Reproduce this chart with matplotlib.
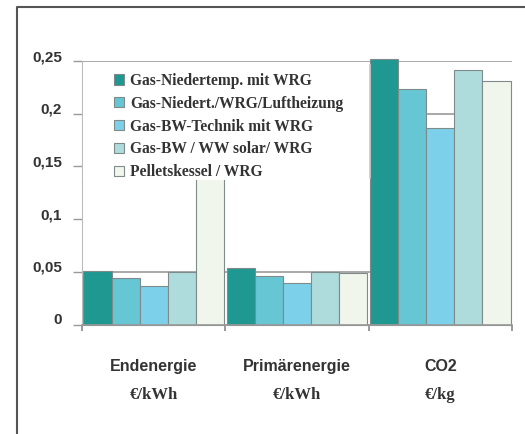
import numpy as np
import matplotlib.pyplot as plt
from matplotlib.lines import Line2D
from matplotlib.patches import Rectangle

# Kosten je Energieart fuer fuenf Heizungsvarianten
categories = ['Endenergie', 'Primärenergie', 'CO2']
units = ['€/kWh', '€/kWh', '€/kg']
series = ['Gas-Niedertemp. mit WRG',
          'Gas-Niedert./WRG/Luftheizung',
          'Gas-BW-Technik mit WRG',
          'Gas-BW / WW solar/ WRG',
          'Pelletskessel / WRG']
gas_nt = [0.051, 0.054, 0.252]
gas_nt_luft = [0.044, 0.046, 0.223]
gas_bw = [0.037, 0.039, 0.186]
gas_bw_solar = [0.050, 0.050, 0.241]
pellets = [0.220, 0.049, 0.231]
yticks = [0, 0.05, 0.1, 0.15, 0.2, 0.25]
ytick_labels = ['0', '0,05', '0,1', '0,15', '0,2', '0,25']

colors = ['#1f9892', '#66c6d4', '#7dd0ea', '#aedcdc', '#f1f6ec']
values = [gas_nt, gas_nt_luft, gas_bw, gas_bw_solar, pellets]

fig = plt.figure(figsize=(5.25, 4.34), dpi=100)
ax = fig.add_axes([82 / 525, 1 - 324.5 / 434, 430 / 525, 263.5 / 434])

x = np.arange(len(categories))
w = 0.196
for i, (vals, col, name) in enumerate(zip(values, colors, series)):
    ax.bar(x + (i - 2) * w, vals, width=w, color=col, edgecolor='#7f8a8a',
           linewidth=0.8, label=name, zorder=2, clip_on=False)

ax.set_xlim(-0.5, 2.5)
ax.set_ylim(0, 0.25)
ax.set_yticks(yticks)
ax.set_yticklabels(ytick_labels, fontsize=11, fontweight='bold',
                   family='Liberation Sans', color='#333333')
for lab in ax.get_yticklabels():
    lab.set_va('baseline')
ax.tick_params(axis='y', length=6.5, width=1, color='#999999', pad=8)
ax.set_xticks([-0.5, 0.5, 1.5, 2.5])
ax.set_xticklabels([])
ax.tick_params(axis='x', length=4, width=1.2, color='#888888')

ax.yaxis.grid(True, color='#9a9a9a', linewidth=1.2, zorder=0)
ax.set_axisbelow(True)
for val, gl in zip(yticks, ax.get_ygridlines()):
    if val == 0.1:
        gl.set_visible(False)

for s in ['top', 'right']:
    ax.spines[s].set_visible(False)
ax.spines['left'].set_color('#bbbbbb')
ax.spines['bottom'].set_color('#999999')
ax.spines['bottom'].set_linewidth(1.2)

# category labels, two lines in different fonts
for xi, cat, unit in zip(x, categories, units):
    ax.text(xi, -0.161, cat, transform=ax.get_xaxis_transform(), ha='center',
            va='center', fontsize=11.5, fontweight='bold',
            family='Liberation Sans', color='#333333')
    ax.text(xi, -0.268, unit, transform=ax.get_xaxis_transform(), ha='center',
            va='center', fontsize=12, fontweight='bold',
            family='Liberation Serif', color='#333333')

# white legend box over the plot
ax.add_patch(Rectangle((0.002, 0.548), 0.668, 0.444, transform=ax.transAxes,
                       facecolor='white', edgecolor='none', zorder=4))
ax.plot([0.67, 0.67], [0.555, 0.985], transform=ax.transAxes,
        color='#c8c8c8', lw=1.2, zorder=4)
leg = ax.legend(loc='upper left', bbox_to_anchor=(0.075, 0.955),
                frameon=False, borderpad=0, borderaxespad=0,
                prop={'family': 'Liberation Serif', 'weight': 'bold', 'size': 11.2},
                handlelength=0.65, handleheight=0.65, handletextpad=0.35,
                labelspacing=0.44)
leg.set_zorder(5)
for t in leg.get_texts():
    t.set_color('#333333')

# outer frame
fig.add_artist(Line2D([17 / 525, 17 / 525, 1], [0, 1 - 7 / 434, 1 - 7 / 434],
                      transform=fig.transFigure, color='#555555', lw=1.5))

plt.savefig('out.png', dpi=100)
